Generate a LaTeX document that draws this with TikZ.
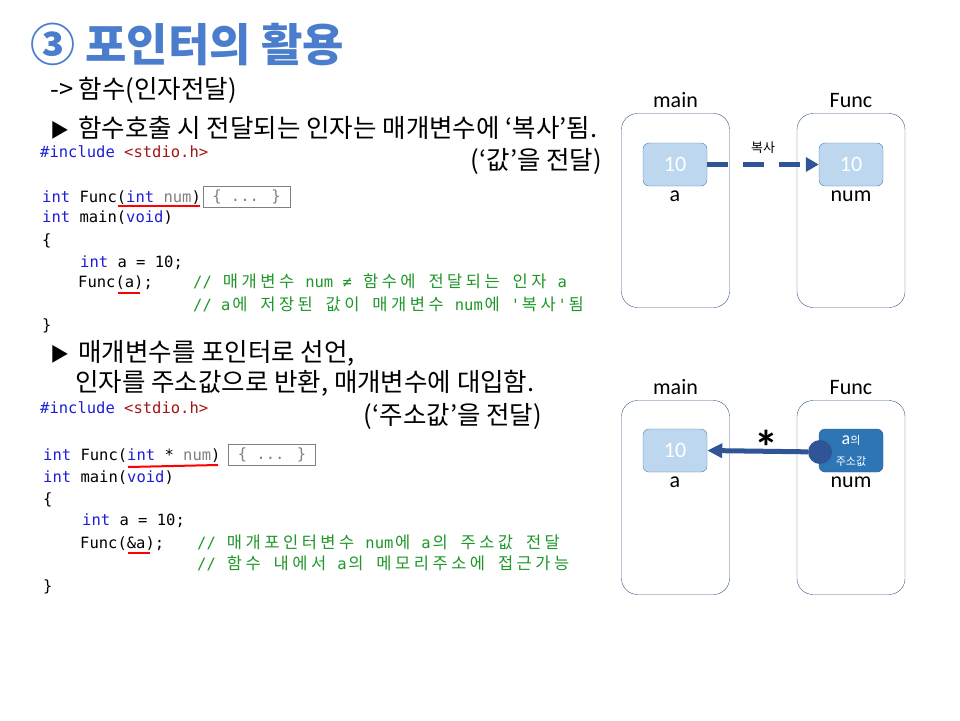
\documentclass[tikz,border=0pt]{standalone}
\usepackage{fontspec}
\usepackage{pdfrender}
\setmainfont{Noto Sans CJK KR}
\newfontfamily\kr{Noto Sans CJK KR}
\newfontfamily\codefont{DejaVu Sans Mono}
\newfontfamily\calfont{Carlito}
\usetikzlibrary{arrows.meta, positioning}

\definecolor{titleblue}{RGB}{75,125,205}
\definecolor{titleedge}{RGB}{40,75,140}
\definecolor{kwblue}{RGB}{30,30,215}
\definecolor{strred}{RGB}{163,21,21}
\definecolor{cmtgreen}{RGB}{30,150,40}
\definecolor{parmgray}{RGB}{128,128,128}
\definecolor{boxfill}{RGB}{189,215,238}
\definecolor{boxedge}{RGB}{80,125,175}
\definecolor{arrowblue}{RGB}{47,85,151}
\definecolor{ptrfill}{RGB}{46,117,182}
\definecolor{frameedge}{RGB}{60,90,135}

\newcommand{\kw}[1]{\textcolor{kwblue}{#1}}
\newcommand{\tri}{{\fontsize{19}{19}\selectfont ▶}\hspace{9pt}}
% Korean in code: each syllable in a double-width cell
\makeatletter
\newcommand{\hk}[1]{{\kr\fontsize{16.5}{18}\selectfont\@tfor\hkc:=#1\do{\makebox[18.7pt]{\hkc}}}}
\makeatother

\begin{document}
\begin{tikzpicture}[
    x=1pt,
    y=-1pt,
    title/.style={anchor=base west, inner sep=0, text=titleblue, font=\kr\bfseries\fontsize{45}{45}\selectfont},
    txt/.style={anchor=base west, inner sep=0, font=\kr\fontsize{25.5}{28}\selectfont},
    code/.style={anchor=base west, inner sep=0, font=\codefont\fontsize{15.5}{18}\selectfont},
    cmt/.style={code, text=cmtgreen},
    body/.style={draw=parmgray, thick, minimum width=87pt, minimum height=21pt, inner sep=0,
        text=parmgray, font=\codefont\fontsize{15.5}{18}\selectfont},
    uline/.style={draw=red, line width=2pt},
    frame/.style={draw=frameedge, rounded corners=16pt, minimum width=108pt, minimum height=194pt, inner sep=0},
    valbox/.style={draw=boxedge, fill=boxfill, rounded corners=6pt, minimum width=64pt, minimum height=43pt,
        text=white, font=\calfont\fontsize{22}{22}\selectfont},
    lbl/.style={inner sep=1pt, font=\calfont\fontsize{22}{22}\selectfont}
]
\useasboundingbox (0,0) rectangle (960,720);

% --- Title ---
\node[title] (ttl) at (30,61) {\textpdfrender{TextRenderingMode=FillStroke, LineWidth=1.4pt, StrokeColor=titleedge, FillColor=titleblue}{③ 포인터의 활용}};

% --- Text ---
\node[txt] (sub) at (50,98) {-> 함수(인자전달)};
\node[txt] (pt1) at (50,137) {\tri 함수호출 시 전달되는 인자는 매개변수에 ‘복사’됨.};
\node[txt, anchor=base east] (val1) at (602,169) {(‘값’을 전달)};
\node[txt] (pt2) at (50,361) {\tri 매개변수를 포인터로 선언,};
\node[txt] (pt2b) at (75,391) {인자를 주소값으로 반환, 매개변수에 대입함.};
\node[txt, anchor=base east] (val2) at (542,424) {(‘주소값’을 전달)};

% --- Code 1 ---
\node[code] (c1a) at (40,157) {\kw{\#include} \textcolor{strred}{<stdio.h>}};
\node[code] (c1b) at (42,202) {\kw{int} Func(\kw{int} \textcolor{parmgray}{num})};
\node[body] (c1body) at (246.5,197) {\{ ... \}};
\node[code] (c1c) at (42,222) {\kw{int} main(\kw{void})};
\node[code] (c1d) at (42,245) {\{};
\node[code] (c1e) at (80,267) {\kw{int} a = 10;};
\node[code] (c1f) at (78,287) {Func(a);};
\node[cmt] (c1g) at (193,287) {// \hk{매개변수} num ≠ \hk{함수에} \hk{전달되는} \hk{인자} a};
\node[cmt] (c1h) at (193,310) {// a\hk{에} \hk{저장된} \hk{값이} \hk{매개변수} num\hk{에} '\hk{복사}'\hk{됨}};
\node[code] (c1i) at (42,330) {\}};
\draw[uline] (118,206) -- (200,206);
\draw[uline] (118,293) -- (140,293);

% --- Code 2 ---
\node[code] (c2a) at (40,413) {\kw{\#include} \textcolor{strred}{<stdio.h>}};
\node[code] (c2b) at (43,460) {\kw{int} Func(\kw{int} * \textcolor{parmgray}{num})};
\node[body] (c2body) at (272,455) {\{ ... \}};
\node[code] (c2c) at (43,482) {\kw{int} main(\kw{void})};
\node[code] (c2d) at (43,504) {\{};
\node[code] (c2e) at (82,525) {\kw{int} a = 10;};
\node[code] (c2f) at (80,548) {Func(\&a);};
\node[cmt] (c2g) at (197,548) {// \hk{매개포인터변수} num\hk{에} a\hk{의} \hk{주소값} \hk{전달}};
\node[cmt] (c2h) at (197,569) {// \hk{함수} \hk{내에서} a\hk{의} \hk{메모리주소에} \hk{접근가능}};
\node[code] (c2i) at (43,591) {\}};
\draw[uline] (128,467) -- (218,465);
\draw[uline] (128,553) -- (150,553);

% --- Call by value ---
\node[frame] (main1) at (675.5,210.5) {};
\node[frame] (func1) at (851,210.5) {};
\node[lbl, above=4pt of main1] (main1l) {main};
\node[lbl, above=4pt of func1] (func1l) {Func};
\node[valbox] (a1) at (675,164.5) {10};
\node[valbox] (num1) at (851,164.5) {10};
\node[lbl, below=3pt of a1] (a1l) {a};
\node[lbl, below=3pt of num1] (num1l) {num};
\draw[arrowblue, line width=5pt, dash pattern=on 21pt off 15pt, -{Triangle[length=13pt,width=14pt]}]
    (a1.east) -- (num1.west) node[midway, above=5pt, text=black, font=\kr\fontsize{13}{13}\selectfont] (copy) {복사};

% --- Call by address ---
\node[frame] (main2) at (675.5,497.5) {};
\node[frame] (func2) at (851,497.5) {};
\node[lbl, above=4pt of main2] (main2l) {main};
\node[lbl, above=4pt of func2] (func2l) {Func};
\node[valbox] (a2) at (675,450.5) {10};
\node[valbox, fill=ptrfill, draw=arrowblue, align=center, inner sep=0] (num2) at (851,450.5)
    {{\fontsize{18}{16}\selectfont a}{\kr\fontsize{11}{11}\selectfont 의}\\[-1pt]{\kr\fontsize{11}{12}\selectfont 주소값}};
\node[lbl, below=3pt of a2] (a2l) {a};
\node[lbl, below=3pt of num2] (num2l) {num};
\node[circle, fill=arrowblue, minimum size=24pt, inner sep=0] (ptr) at (820,452) {};
\draw[arrowblue, line width=5pt, -{Triangle[length=15pt,width=14pt]}] (ptr) -- (a2.east);
\node[anchor=base, inner sep=0, font=\calfont\bfseries\fontsize{48}{48}\selectfont] (star) at (766,464) {*};
\end{tikzpicture}
\end{document}
